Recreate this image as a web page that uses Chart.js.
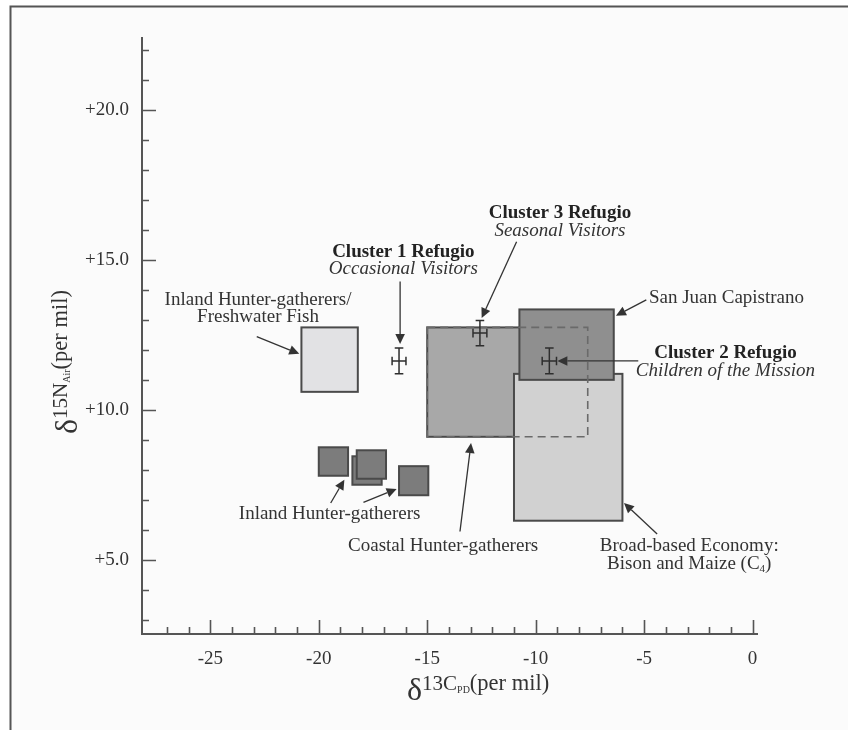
<!DOCTYPE html>
<html>
<head>
<meta charset="utf-8">
<script src="https://cdn.jsdelivr.net/npm/chart.js@4/dist/chart.umd.min.js"></script>
<style>
  html, body { margin: 0; padding: 0; background: #ffffff; }
  canvas { display: block; }
</style>
</head>
<body>
<canvas id="chart" width="848" height="730"></canvas>
<script>
// ---- Axis ticks (per mil) ----
const xTickValues = [-27, -26, -25, -24, -23, -22, -21, -20, -19, -18, -17, -16, -15, -14,
                     -13, -12, -11, -10, -9, -8, -7, -6, -5, -4, -3, -2, -1, 0];
const xLabelledTicks = [-25, -20, -15, -10, -5, 0];
const yTickValues = [3, 4, 5, 6, 7, 8, 9, 10, 11, 12, 13, 14, 15, 16, 17, 18, 19, 20, 21, 22];
const yLabelledTicks = [5, 10, 15, 20];

// ---- Dietary reference ranges (drawn in this order) ----
const rangeNames = ['Freshwater Fish', 'Inland HG 1', 'Inland HG 2', 'Inland HG 3', 'Inland HG 4',
                    'Coastal Hunter-gatherers', 'Broad-based Economy', 'San Juan Capistrano'];
const rangeC13Min = [-20.8, -20.0, -18.45, -18.25, -16.3, -15.0, -11.0, -10.75];
const rangeC13Max = [-18.2, -18.65, -17.1, -16.9, -14.95, -7.6, -6.0, -6.4];
const rangeN15Min = [10.6, 7.8, 7.5, 7.7, 7.15, 9.1, 6.3, 11.0];
const rangeN15Max = [12.75, 8.75, 8.45, 8.65, 8.12, 12.75, 11.2, 13.35];

// ---- Refugio clusters: mean with error ----
const clusterNames = ['Cluster 1', 'Cluster 3', 'Cluster 2'];
const clusterC13 = [-16.3, -12.57, -9.37];
const clusterN15 = [11.63, 12.56, 11.63];
const clusterC13Err = [0.32, 0.32, 0.33];
const clusterN15Err = [0.43, 0.42, 0.43];

// ---- Styling ----
const SERIF = '"Liberation Serif", "Times New Roman", serif';
const INK = '#333333';
const AXIS = '#555555';
const rangeFill = {
  'Freshwater Fish': '#e2e2e4',
  'Inland HG 1': '#7c7c7c', 'Inland HG 2': '#7c7c7c', 'Inland HG 3': '#7c7c7c', 'Inland HG 4': '#7c7c7c',
  'Coastal Hunter-gatherers': '#a8a8a8',
  'Broad-based Economy': '#d1d1d1',
  'San Juan Capistrano': '#8f8f8f'
};

// Callout labels: text lines anchored in data units, arrows from/to in data units
const REG = '19px ' + SERIF, BOLD = 'bold 19px ' + SERIF, ITAL = 'italic 19px ' + SERIF;
const SUB = '11px ' + SERIF;
const callouts = [
  { x: -22.8, y: 13.67, align: 'center',
    lines: [[{ t: 'Inland Hunter-gatherers/', f: REG }], [{ t: 'Freshwater Fish', f: REG }]],
    arrows: [[-22.86, 12.44, -20.9, 11.87]] },
  { x: -16.1, y: 15.27, align: 'center',
    lines: [[{ t: 'Cluster 1 Refugio', f: BOLD }], [{ t: 'Occasional Visitors', f: ITAL }]],
    arrows: [[-16.25, 14.28, -16.25, 12.2]] },
  { x: -8.88, y: 16.57, align: 'center',
    lines: [[{ t: 'Cluster 3 Refugio', f: BOLD }], [{ t: 'Seasonal Visitors', f: ITAL }]],
    arrows: [[-10.88, 15.61, -12.49, 13.06]] },
  { x: -4.78, y: 13.72, align: 'left',
    lines: [[{ t: 'San Juan Capistrano', f: REG }]],
    arrows: [[-4.9, 13.67, -6.3, 13.14]] },
  { x: -1.25, y: 11.89, align: 'center',
    lines: [[{ t: 'Cluster 2 Refugio', f: BOLD }], [{ t: 'Children of the Mission', f: ITAL }]],
    arrows: [[-5.27, 11.63, -9.0, 11.63]] },
  { x: -2.92, y: 5.44, align: 'center',
    lines: [[{ t: 'Broad-based Economy:', f: REG }],
            [{ t: 'Bison and Maize (C', f: REG }, { t: '4', f: SUB, dy: 5 }, { t: ')', f: REG }]],
    arrows: [[-4.4, 5.86, -5.93, 6.89]] },
  { x: -14.27, y: 5.47, align: 'center',
    lines: [[{ t: 'Coastal Hunter-gatherers', f: REG }]],
    arrows: [[-13.49, 5.94, -12.98, 8.89]] },
  { x: -19.5, y: 6.53, align: 'center',
    lines: [[{ t: 'Inland Hunter-gatherers', f: REG }]],
    arrows: [[-19.45, 6.89, -18.82, 7.67], [-17.94, 6.91, -16.41, 7.36]] }
];

// ---- helpers ----
function richWidth(ctx, segs) {
  let w = 0;
  segs.forEach(s => { ctx.font = s.f; w += ctx.measureText(s.t).width; });
  return w;
}
function drawRich(ctx, segs, x, y, align) {
  const w = richWidth(ctx, segs);
  let sx = align === 'center' ? x - w / 2 : (align === 'right' ? x - w : x);
  ctx.textAlign = 'left';
  segs.forEach(s => {
    ctx.font = s.f;
    ctx.fillText(s.t, sx, y + (s.dy || 0));
    sx += ctx.measureText(s.t).width;
  });
}
function arrow(ctx, x1, y1, x2, y2) {
  const ang = Math.atan2(y2 - y1, x2 - x1);
  const hl = 10, hw = 4.8;
  const bx = x2 - hl * Math.cos(ang), by = y2 - hl * Math.sin(ang);
  ctx.beginPath();
  ctx.moveTo(x1, y1);
  ctx.lineTo(bx, by);
  ctx.stroke();
  ctx.beginPath();
  ctx.moveTo(x2, y2);
  ctx.lineTo(bx + hw * Math.sin(ang), by - hw * Math.cos(ang));
  ctx.lineTo(bx - hw * Math.sin(ang), by + hw * Math.cos(ang));
  ctx.closePath();
  ctx.fill();
}

// Page frame and light panel behind the plot
const framePlugin = {
  id: 'frame',
  beforeDraw(chart) {
    const ctx = chart.ctx;
    ctx.save();
    ctx.fillStyle = '#ffffff';
    ctx.fillRect(0, 0, chart.width, chart.height);
    ctx.fillStyle = '#fbfbfb';
    ctx.fillRect(11, 7, chart.width - 11, chart.height - 7);
    ctx.strokeStyle = '#555555';
    ctx.lineWidth = 2;
    ctx.beginPath();
    ctx.moveTo(10.5, chart.height);
    ctx.lineTo(10.5, 6.5);
    ctx.lineTo(chart.width, 6.5);
    ctx.stroke();
    ctx.restore();
  }
};

// Reference range boxes
const rangesPlugin = {
  id: 'ranges',
  beforeDatasetsDraw(chart) {
    const { ctx, scales: { x, y } } = chart;
    ctx.save();
    rangeNames.forEach((name, i) => {
      const x1 = x.getPixelForValue(rangeC13Min[i]), x2 = x.getPixelForValue(rangeC13Max[i]);
      const y1 = y.getPixelForValue(rangeN15Max[i]), y2 = y.getPixelForValue(rangeN15Min[i]);
      ctx.fillStyle = rangeFill[name];
      ctx.fillRect(x1, y1, x2 - x1, y2 - y1);
      ctx.strokeStyle = '#4a4a4a';
      ctx.lineWidth = 2;
      ctx.strokeRect(x1, y1, x2 - x1, y2 - y1);
    });
    // hidden edges of the coastal range, dashed over the overlapping boxes
    const c = rangeNames.indexOf('Coastal Hunter-gatherers');
    const cx1 = x.getPixelForValue(rangeC13Min[c]), cx2 = x.getPixelForValue(rangeC13Max[c]);
    const cy1 = y.getPixelForValue(rangeN15Max[c]), cy2 = y.getPixelForValue(rangeN15Min[c]);
    ctx.setLineDash([8, 5]);
    ctx.strokeStyle = '#6a6a6a';
    ctx.lineWidth = 1.6;
    ctx.strokeRect(cx1, cy1, cx2 - cx1, cy2 - cy1);
    ctx.setLineDash([]);
    ctx.restore();
  }
};

// Error crosses for the Refugio clusters
const errorBarPlugin = {
  id: 'errorBars',
  afterDatasetsDraw(chart) {
    const { ctx, scales: { x, y } } = chart;
    const ds = chart.data.datasets[0];
    ctx.save();
    ctx.strokeStyle = '#2e2e2e';
    ctx.lineWidth = 1.5;
    ds.data.forEach(p => {
      const px = x.getPixelForValue(p.x), py = y.getPixelForValue(p.y);
      const xl = x.getPixelForValue(p.x - p.xErr), xr = x.getPixelForValue(p.x + p.xErr);
      const yt = y.getPixelForValue(p.y + p.yErr), yb = y.getPixelForValue(p.y - p.yErr);
      const cap = 4.3;
      ctx.beginPath();
      ctx.moveTo(px, yt); ctx.lineTo(px, yb);
      ctx.moveTo(px - cap, yt); ctx.lineTo(px + cap, yt);
      ctx.moveTo(px - cap, yb); ctx.lineTo(px + cap, yb);
      ctx.moveTo(xl, py); ctx.lineTo(xr, py);
      ctx.moveTo(xl, py - cap); ctx.lineTo(xl, py + cap);
      ctx.moveTo(xr, py - cap); ctx.lineTo(xr, py + cap);
      ctx.stroke();
    });
    ctx.restore();
  }
};

// Axis lines, inward tick marks, callouts and axis titles
const axesPlugin = {
  id: 'axesAndNotes',
  afterDraw(chart) {
    const { ctx, chartArea: a, scales: { x, y } } = chart;
    ctx.save();
    ctx.strokeStyle = AXIS;
    ctx.lineWidth = 2;
    ctx.beginPath();
    ctx.moveTo(a.left, a.top);
    ctx.lineTo(a.left, a.bottom);
    ctx.lineTo(a.right, a.bottom);
    ctx.stroke();
    ctx.lineWidth = 1.6;
    ctx.beginPath();
    x.ticks.forEach(t => {
      const px = Math.round(x.getPixelForValue(t.value)) + 0.5;
      const len = xLabelledTicks.includes(t.value) ? 14 : 7;
      ctx.moveTo(px, a.bottom); ctx.lineTo(px, a.bottom - len);
    });
    y.ticks.forEach(t => {
      const py = Math.round(y.getPixelForValue(t.value)) + 0.5;
      const len = yLabelledTicks.includes(t.value) ? 14 : 7;
      ctx.moveTo(a.left, py); ctx.lineTo(a.left + len, py);
    });
    ctx.stroke();

    // callouts
    ctx.fillStyle = INK;
    ctx.strokeStyle = INK;
    ctx.lineWidth = 1.3;
    ctx.textBaseline = 'middle';
    callouts.forEach(c => {
      const cx = x.getPixelForValue(c.x), cy = y.getPixelForValue(c.y);
      c.lines.forEach((segs, i) => {
        ctx.fillStyle = segs[0].f === BOLD ? '#222222' : INK;
        drawRich(ctx, segs, cx, cy + i * 17.6, c.align);
      });
      ctx.fillStyle = INK;
      c.arrows.forEach(ar => {
        arrow(ctx, x.getPixelForValue(ar[0]), y.getPixelForValue(ar[1]),
                   x.getPixelForValue(ar[2]), y.getPixelForValue(ar[3]));
      });
    });

    // axis titles
    ctx.textBaseline = 'alphabetic';
    ctx.fillStyle = INK;
    const xTitle = [
      { t: 'δ', f: '32px ' + SERIF, dy: 10 },
      { t: '13', f: '21px ' + SERIF, dy: 0 },
      { t: 'C', f: '21px ' + SERIF, dy: 0 },
      { t: 'PD', f: '10px ' + SERIF, dy: 3 },
      { t: '(per mil)', f: '22.5px ' + SERIF, dy: 0 }
    ];
    drawRich(ctx, xTitle, 407, 690, 'left');

    const yTitle = [
      { t: 'δ', f: '32px ' + SERIF, dy: 10 },
      { t: '15', f: '21px ' + SERIF, dy: 0 },
      { t: 'N', f: '21px ' + SERIF, dy: 0 },
      { t: 'Air', f: '10px ' + SERIF, dy: 3 },
      { t: '(per mil)', f: '22.5px ' + SERIF, dy: 0 }
    ];
    ctx.translate(67, 0);
    ctx.rotate(-Math.PI / 2);
    drawRich(ctx, yTitle, -434, 0, 'left');
    ctx.restore();
  }
};

const chart = new Chart(document.getElementById('chart'), {
  type: 'scatter',
  data: {
    datasets: [{
      label: 'Refugio clusters',
      data: clusterNames.map((n, i) => ({ x: clusterC13[i], y: clusterN15[i],
                                          xErr: clusterC13Err[i], yErr: clusterN15Err[i] })),
      pointRadius: 0,
      pointHoverRadius: 0
    }]
  },
  options: {
    responsive: false,
    animation: false,
    events: [],
    layout: { padding: { left: 0, right: 90, top: 37, bottom: 0 } },
    plugins: { legend: { display: false }, tooltip: { enabled: false } },
    scales: {
      x: {
        type: 'linear', min: -28.15, max: 0.25,
        afterBuildTicks: s => { s.ticks = xTickValues.map(v => ({ value: v })); },
        afterFit: s => { s.height = 96; },
        grid: { display: false, drawTicks: false },
        border: { display: false },
        ticks: {
          autoSkip: false, maxRotation: 0, padding: 14, color: INK,
          font: { family: SERIF, size: 19 },
          callback: v => xLabelledTicks.includes(v) ? String(v) : ''
        }
      },
      y: {
        type: 'linear', min: 2.52, max: 22.44,
        afterBuildTicks: s => { s.ticks = yTickValues.map(v => ({ value: v })); },
        afterFit: s => { s.width = 142; },
        grid: { display: false, drawTicks: false },
        border: { display: false },
        ticks: {
          autoSkip: false, padding: 13, color: INK,
          font: { family: SERIF, size: 19 },
          callback: v => yLabelledTicks.includes(v) ? '+' + v.toFixed(1) : ''
        }
      }
    }
  },
  plugins: [framePlugin, rangesPlugin, errorBarPlugin, axesPlugin]
});
</script>
</body>
</html>
